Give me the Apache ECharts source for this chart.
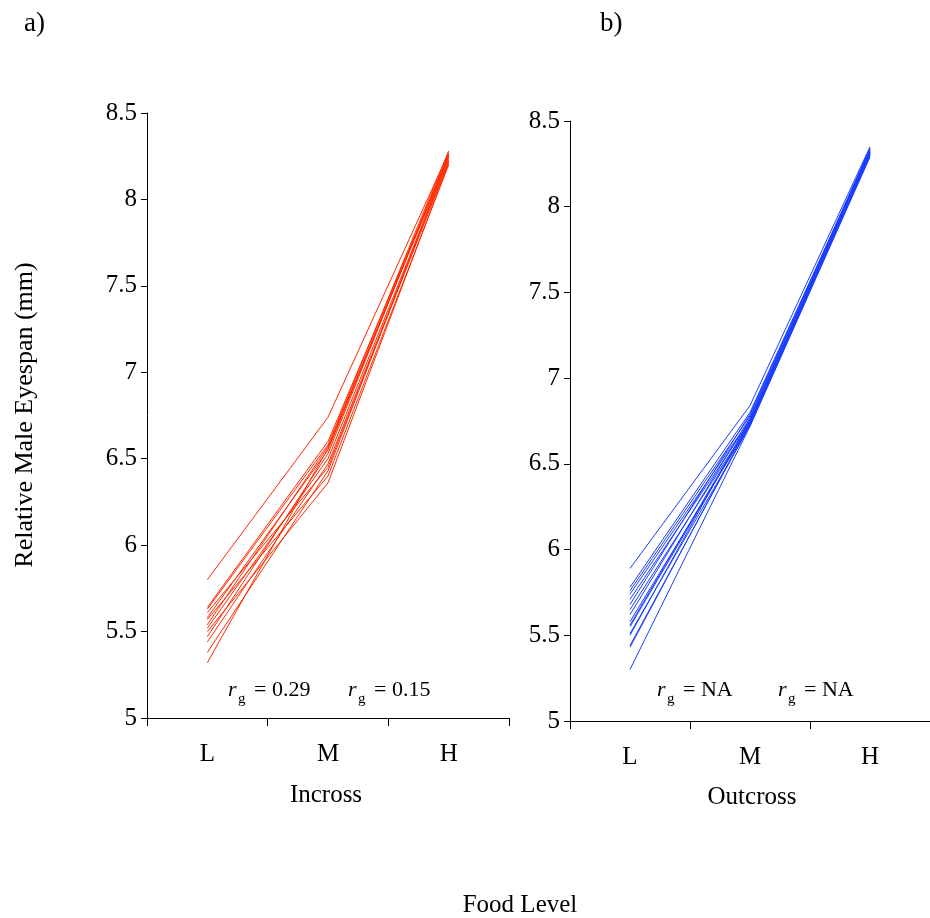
<!DOCTYPE html>
<html><head><meta charset="utf-8">
<script src="https://cdn.jsdelivr.net/npm/echarts@6/dist/echarts.min.js"></script>
<style>html,body{margin:0;padding:0;background:#fff}#c{width:930px;height:918px}</style>
</head><body><div id="c"></div>
<script>
const categories = ['L', 'M', 'H'];
const yTicks = [5, 5.5, 6, 6.5, 7, 7.5, 8, 8.5];
// Incross (panel a) lines: value at L, M, H
const incrossL = [5.80, 5.64, 5.63, 5.61, 5.58, 5.57, 5.54, 5.52, 5.50, 5.47, 5.44, 5.38, 5.32];
const incrossM = [6.74, 6.60, 6.58, 6.45, 6.55, 6.40, 6.57, 6.50, 6.36, 6.53, 6.47, 6.43, 6.56];
const incrossH = [8.27, 8.25, 8.28, 8.22, 8.26, 8.20, 8.24, 8.23, 8.21, 8.27, 8.22, 8.25, 8.26];
// Outcross (panel b) lines
const outcrossL = [5.89, 5.78, 5.76, 5.74, 5.71, 5.68, 5.65, 5.62, 5.58, 5.56, 5.55, 5.51, 5.50, 5.44, 5.43, 5.30];
const outcrossM = [6.84, 6.80, 6.78, 6.76, 6.75, 6.79, 6.74, 6.77, 6.73, 6.75, 6.74, 6.72, 6.76, 6.73, 6.74, 6.72];
const outcrossH = [8.35, 8.33, 8.34, 8.32, 8.31, 8.33, 8.30, 8.32, 8.31, 8.34, 8.30, 8.29, 8.33, 8.31, 8.32, 8.30];
const panelTitles = ['a)', 'b)'];
const xNames = ['Incross', 'Outcross'];
const rgLabels = [['0.29', '0.15'], ['NA', 'NA']];

const FONT = '"Liberation Serif", "Times New Roman", serif';
const RED = '#ff2a00', BLUE = '#1a3dff';

function series(Ls, Ms, Hs, idx, color) {
  return Ls.map((v, i) => ({
    type: 'line', xAxisIndex: idx, yAxisIndex: idx,
    data: [v, Ms[i], Hs[i]], symbol: 'none', silent: true,
    lineStyle: { color: color, width: 1 }, animation: false
  }));
}
function yAxis(idx) {
  return {
    type: 'value', gridIndex: idx, min: 5, max: 8.5, interval: 0.5,
    axisLine: { show: true, lineStyle: { color: '#000', width: 1 } },
    axisTick: { show: true, inside: false, length: 6, lineStyle: { color: '#000' } },
    axisLabel: { color: '#000', fontFamily: FONT, fontSize: 25, margin: 10,
      formatter: v => yTicks.includes(v) ? String(v) : '' },
    splitLine: { show: false }
  };
}
function xAxis(idx) {
  return {
    type: 'category', gridIndex: idx, data: categories, boundaryGap: true,
    axisLine: { show: true, lineStyle: { color: '#000', width: 1 } },
    axisTick: { show: true, length: 8, lineStyle: { color: '#000' } },
    axisLabel: { color: '#000', fontFamily: FONT, fontSize: 25, margin: 24 },
    splitLine: { show: false }
  };
}
function rg(x, y, val) {
  return [
    { type: 'text', x: x, y: y, style: { text: 'r', font: 'italic 22px ' + FONT, fill: '#000', textVerticalAlign: 'middle' } },
    { type: 'text', x: x + 10, y: y + 9, style: { text: 'g', font: '15px ' + FONT, fill: '#000', textVerticalAlign: 'middle' } },
    { type: 'text', x: x + 26, y: y, style: { text: '= ' + val, font: '22px ' + FONT, fill: '#000', textVerticalAlign: 'middle' } }
  ];
}

const chart = echarts.init(document.getElementById('c'), null, { renderer: 'canvas' });
chart.setOption({
  backgroundColor: '#fff',
  animation: false,
  grid: [
    { left: 147, top: 113, width: 362, height: 605 },
    { left: 570, top: 121, width: 366, height: 600 }
  ],
  xAxis: [xAxis(0), xAxis(1)],
  yAxis: [yAxis(0), yAxis(1)],
  series: [...series(incrossL, incrossM, incrossH, 0, RED), ...series(outcrossL, outcrossM, outcrossH, 1, BLUE)],
  graphic: [
    { type: 'text', x: 24, y: 10, style: { text: panelTitles[0], font: '27px ' + FONT, fill: '#000' } },
    { type: 'text', x: 600, y: 10, style: { text: panelTitles[1], font: '27px ' + FONT, fill: '#000' } },
    { type: 'text', x: 25, y: 415, rotation: Math.PI / 2, style: { text: 'Relative Male Eyespan (mm)', font: '26px ' + FONT, fill: '#000', textAlign: 'center', textVerticalAlign: 'middle' } },
    { type: 'text', x: 326, y: 795, style: { text: xNames[0], font: '25px ' + FONT, fill: '#000', textAlign: 'center', textVerticalAlign: 'middle' } },
    { type: 'text', x: 752, y: 797, style: { text: xNames[1], font: '25px ' + FONT, fill: '#000', textAlign: 'center', textVerticalAlign: 'middle' } },
    { type: 'text', x: 520, y: 905, style: { text: 'Food Level', font: '25px ' + FONT, fill: '#000', textAlign: 'center', textVerticalAlign: 'middle' } },
    ...rg(228, 690, rgLabels[0][0]), ...rg(348, 690, rgLabels[0][1]),
    ...rg(657, 690, rgLabels[1][0]), ...rg(778, 690, rgLabels[1][1])
  ]
});
</script></body></html>
